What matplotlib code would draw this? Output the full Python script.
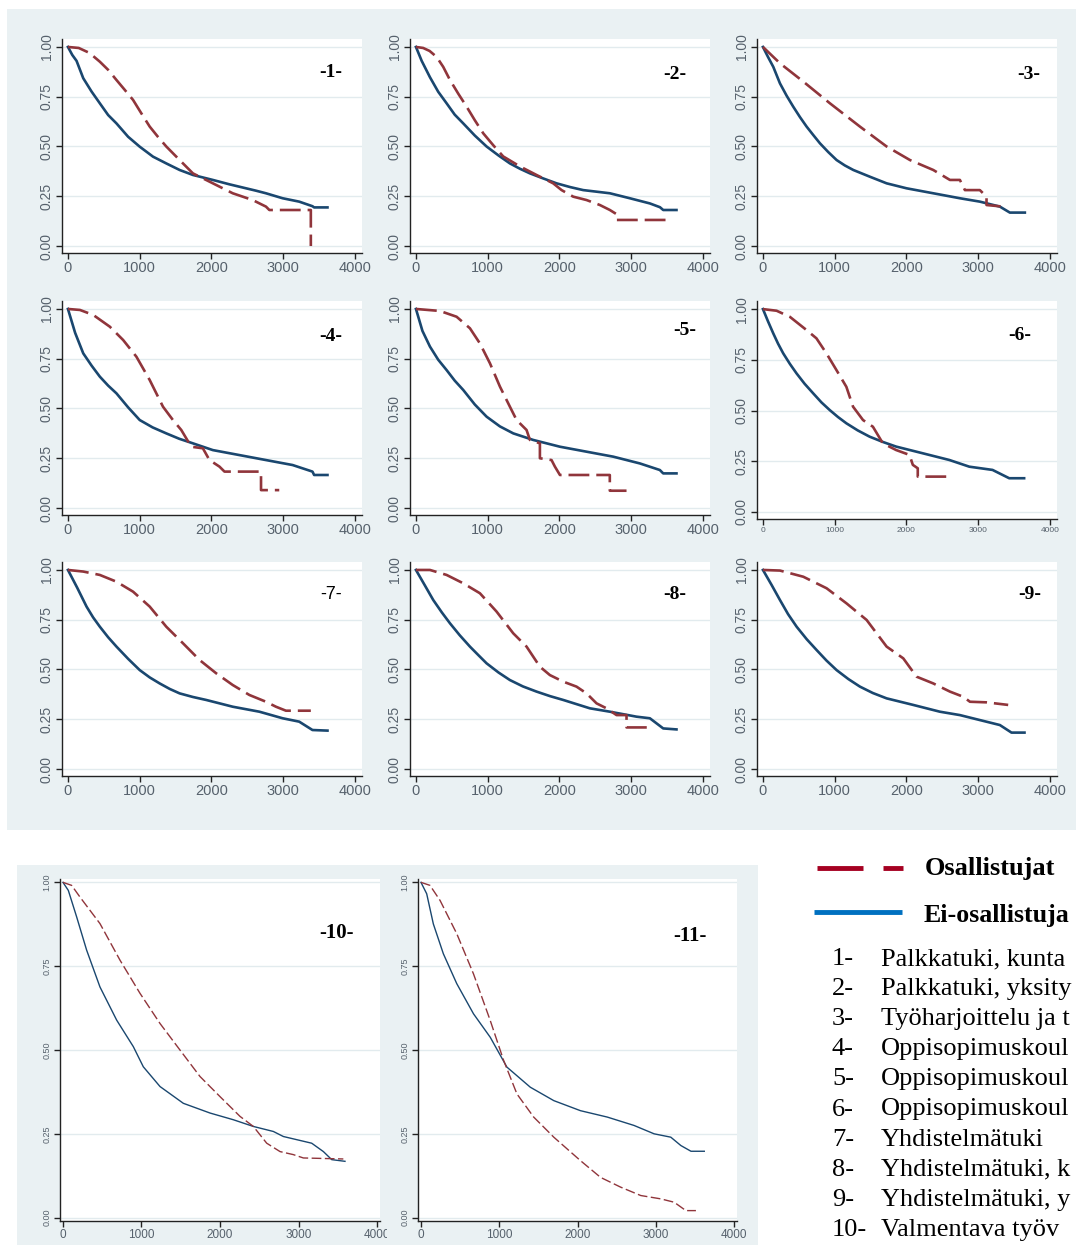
import matplotlib.pyplot as plt
from matplotlib.lines import Line2D
from matplotlib.patches import Rectangle

# ── survival curves (t = days, s = share still unemployed) ──
# "os" = Osallistujat (participants, red dashed), "ei" = Ei-osallistujat (blue)
t01_ei = [0, 60, 120, 213, 329, 444, 560, 676, 838, 1000, 1185, 1370, 1556, 1741, 2019, 2250, 2481, 2620, 2759, 2991, 3222, 3407, 3430, 3616]
s01_ei = [1, 0.96, 0.93, 0.843, 0.776, 0.717, 0.658, 0.616, 0.549, 0.499, 0.449, 0.415, 0.382, 0.357, 0.332, 0.31, 0.29, 0.278, 0.265, 0.24, 0.223, 0.2, 0.194, 0.194]
t01_os = [0, 150, 300, 444, 560, 676, 790, 907, 1020, 1139, 1255, 1370, 1556, 1741, 1880, 2019, 2296, 2574, 2759, 2806, 3384, 3384]
s01_os = [1, 0.995, 0.97, 0.926, 0.885, 0.834, 0.785, 0.734, 0.668, 0.6, 0.548, 0.5, 0.432, 0.365, 0.34, 0.315, 0.265, 0.231, 0.198, 0.181, 0.181, 0.0]

t02_ei = [0, 80, 195, 310, 427, 540, 659, 820, 984, 1150, 1309, 1450, 1588, 1770, 1959, 2150, 2330, 2702, 2980, 3259, 3400, 3445, 3630]
s02_ei = [1, 0.93, 0.848, 0.775, 0.717, 0.66, 0.616, 0.555, 0.5, 0.455, 0.415, 0.388, 0.365, 0.34, 0.315, 0.296, 0.281, 0.265, 0.24, 0.214, 0.195, 0.181, 0.181]
t02_os = [0, 100, 190, 288, 380, 474, 590, 706, 820, 938, 1080, 1216, 1448, 1680, 1912, 2029, 2191, 2377, 2563, 2702, 2795, 2795, 3561]
s02_os = [1, 0.995, 0.98, 0.95, 0.9, 0.834, 0.765, 0.70, 0.632, 0.566, 0.505, 0.45, 0.4, 0.357, 0.315, 0.281, 0.248, 0.231, 0.206, 0.181, 0.16, 0.131, 0.131]

t03_ei = [0, 70, 144, 237, 330, 422, 515, 608, 700, 794, 910, 1026, 1140, 1259, 1491, 1723, 2001, 2373, 2744, 3022, 3301, 3440, 3649]
s03_ei = [1, 0.95, 0.9, 0.817, 0.755, 0.70, 0.648, 0.6, 0.558, 0.516, 0.472, 0.432, 0.405, 0.382, 0.348, 0.315, 0.29, 0.265, 0.24, 0.223, 0.198, 0.168, 0.168]
t03_os = [0, 237, 562, 933, 1351, 1723, 2048, 2373, 2605, 2744, 2814, 3022, 3115, 3115, 3347]
s03_os = [1, 0.918, 0.826, 0.717, 0.6, 0.5, 0.432, 0.382, 0.332, 0.332, 0.281, 0.281, 0.248, 0.206, 0.198]

t04_ei = [0, 100, 213, 330, 444, 560, 676, 840, 1000, 1180, 1370, 1550, 1741, 2019, 2389, 2759, 3130, 3407, 3430, 3616]
s04_ei = [1, 0.88, 0.777, 0.715, 0.66, 0.615, 0.576, 0.505, 0.442, 0.405, 0.375, 0.348, 0.325, 0.291, 0.266, 0.241, 0.216, 0.183, 0.166, 0.166]
t04_os = [0, 167, 352, 583, 769, 954, 1139, 1324, 1463, 1579, 1718, 1880, 1972, 2111, 2181, 2690, 2690, 2944]
s04_os = [1, 0.995, 0.97, 0.911, 0.844, 0.76, 0.643, 0.509, 0.442, 0.392, 0.308, 0.3, 0.241, 0.208, 0.183, 0.183, 0.09, 0.09]

t05_ei = [0, 90, 195, 310, 427, 540, 659, 820, 984, 1170, 1356, 1634, 2006, 2377, 2749, 3120, 3398, 3445, 3630]
s05_ei = [1, 0.89, 0.811, 0.745, 0.693, 0.64, 0.593, 0.52, 0.459, 0.41, 0.375, 0.342, 0.308, 0.283, 0.258, 0.224, 0.191, 0.174, 0.174]
t05_os = [0, 334, 566, 752, 891, 1031, 1170, 1309, 1402, 1541, 1588, 1727, 1727, 1889, 1936, 2006, 2701, 2701, 2934]
s05_os = [1, 0.99, 0.961, 0.903, 0.827, 0.727, 0.61, 0.509, 0.442, 0.392, 0.342, 0.325, 0.25, 0.241, 0.208, 0.166, 0.166, 0.087, 0.087]

t06_ei = [0, 70, 144, 210, 282, 375, 468, 580, 699, 815, 931, 1045, 1162, 1320, 1486, 1670, 1856, 2227, 2597, 2875, 3199, 3431, 3639]
s06_ei = [1, 0.94, 0.88, 0.83, 0.782, 0.73, 0.683, 0.632, 0.585, 0.54, 0.502, 0.468, 0.437, 0.402, 0.371, 0.345, 0.322, 0.289, 0.256, 0.223, 0.207, 0.166, 0.166]
t06_os = [0, 190, 375, 606, 745, 884, 1023, 1162, 1255, 1394, 1532, 1671, 1856, 2042, 2088, 2157, 2157, 2597]
s06_os = [1, 0.992, 0.962, 0.897, 0.856, 0.782, 0.7, 0.617, 0.519, 0.453, 0.42, 0.338, 0.305, 0.281, 0.232, 0.215, 0.174, 0.174]

t07_ei = [0, 130, 259, 350, 444, 560, 676, 840, 1000, 1140, 1278, 1420, 1556, 1740, 1926, 2296, 2667, 2991, 3222, 3407, 3616]
s07_ei = [1, 0.91, 0.816, 0.762, 0.715, 0.662, 0.615, 0.553, 0.497, 0.46, 0.43, 0.402, 0.38, 0.362, 0.347, 0.313, 0.288, 0.255, 0.238, 0.196, 0.193]
t07_os = [0, 213, 444, 676, 907, 1139, 1370, 1602, 1833, 2065, 2296, 2528, 2759, 2898, 3037, 3384]
s07_os = [1, 0.992, 0.975, 0.941, 0.891, 0.816, 0.715, 0.632, 0.548, 0.481, 0.422, 0.372, 0.338, 0.313, 0.293, 0.293]

t08_ei = [0, 120, 241, 360, 474, 610, 752, 870, 984, 1150, 1309, 1490, 1680, 1870, 2052, 2423, 2702, 3073, 3259, 3445, 3630]
s08_ei = [1, 0.925, 0.849, 0.787, 0.732, 0.672, 0.615, 0.572, 0.531, 0.485, 0.447, 0.415, 0.389, 0.366, 0.347, 0.305, 0.288, 0.263, 0.255, 0.204, 0.199]
t08_os = [0, 195, 427, 659, 891, 1123, 1355, 1541, 1727, 1866, 2052, 2237, 2377, 2516, 2655, 2795, 2934, 2934, 3282]
s08_os = [1, 1.0, 0.975, 0.933, 0.883, 0.791, 0.682, 0.615, 0.514, 0.472, 0.439, 0.414, 0.38, 0.33, 0.305, 0.271, 0.271, 0.209, 0.209]

t09_ei = [0, 120, 237, 350, 469, 610, 747, 885, 1026, 1190, 1351, 1530, 1723, 2094, 2465, 2744, 3022, 3301, 3463, 3644]
s09_ei = [1, 0.925, 0.849, 0.778, 0.715, 0.652, 0.598, 0.545, 0.497, 0.452, 0.414, 0.382, 0.355, 0.322, 0.288, 0.271, 0.246, 0.221, 0.183, 0.183]
t09_os = [0, 237, 562, 887, 1165, 1444, 1723, 1955, 2140, 2373, 2605, 2791, 2884, 3115, 3417]
s09_os = [1, 0.997, 0.966, 0.908, 0.832, 0.749, 0.615, 0.556, 0.464, 0.43, 0.389, 0.363, 0.338, 0.335, 0.322]

t10_ei = [0, 68, 174, 301, 471, 684, 896, 1023, 1236, 1533, 1873, 2170, 2425, 2680, 2807, 3168, 3317, 3423, 3592]
s10_ei = [1, 0.976, 0.897, 0.798, 0.688, 0.589, 0.51, 0.45, 0.391, 0.341, 0.312, 0.292, 0.272, 0.257, 0.242, 0.222, 0.197, 0.173, 0.168]
t10_os = [0, 110, 217, 471, 726, 981, 1236, 1490, 1745, 2000, 2255, 2425, 2595, 2765, 2934, 3062, 3571]
s10_os = [1, 0.991, 0.956, 0.877, 0.768, 0.669, 0.579, 0.5, 0.421, 0.361, 0.302, 0.272, 0.222, 0.197, 0.188, 0.178, 0.175]

t11_ei = [0, 73, 158, 286, 457, 671, 885, 1098, 1397, 1697, 2038, 2380, 2722, 2979, 3192, 3321, 3450, 3620]
s11_ei = [1, 0.966, 0.876, 0.787, 0.698, 0.608, 0.538, 0.449, 0.389, 0.349, 0.319, 0.3, 0.275, 0.25, 0.24, 0.215, 0.198, 0.198]
t11_os = [0, 115, 244, 457, 671, 885, 1056, 1226, 1440, 1697, 2038, 2295, 2551, 2808, 3064, 3235, 3385, 3513]
s11_os = [1, 0.991, 0.946, 0.847, 0.727, 0.588, 0.469, 0.369, 0.3, 0.24, 0.17, 0.12, 0.091, 0.066, 0.056, 0.046, 0.021, 0.021]

panel_labels = ["-1-", "-2-", "-3-", "-4-", "-5-", "-6-", "-7-", "-8-", "-9-", "-10-", "-11-"]
x_ticks = [0, 1000, 2000, 3000, 4000]
y_ticks = [0, 0.25, 0.5, 0.75, 1.0]
y_tick_labels = ["0.00", "0.25", "0.50", "0.75", "1.00"]

# legend / key text as far as the picture shows it (the page runs off the right edge)
legend_labels = ["Osallistujat", "Ei-osallistuja"]
item_numbers = ["1-", "2-", "3-", "4-", "5-", "6-", "7-", "8-", "9-", "10-"]
item_names = [
    "Palkkatuki, kunta",
    "Palkkatuki, yksity",
    "Työharjoittelu ja t",
    "Oppisopimuskoul",
    "Oppisopimuskoul",
    "Oppisopimuskoul",
    "Yhdistelmätuki",
    "Yhdistelmätuki, k",
    "Yhdistelmätuki, y",
    "Valmentava työv",
]

curves = [
    (t01_ei, s01_ei, t01_os, s01_os), (t02_ei, s02_ei, t02_os, s02_os),
    (t03_ei, s03_ei, t03_os, s03_os), (t04_ei, s04_ei, t04_os, s04_os),
    (t05_ei, s05_ei, t05_os, s05_os), (t06_ei, s06_ei, t06_os, s06_os),
    (t07_ei, s07_ei, t07_os, s07_os), (t08_ei, s08_ei, t08_os, s08_os),
    (t09_ei, s09_ei, t09_os, s09_os), (t10_ei, s10_ei, t10_os, s10_os),
    (t11_ei, s11_ei, t11_os, s11_os),
]

# ── styling ──────────────────────────────────────────────────────────
BG = '#eaf1f3'
GRID = '#e2ebee'
NAVY = '#1a476f'
MAROON = '#90353b'
TICKLAB = '#56616c'
LEG_RED = '#a50021'
LEG_BLUE = '#0070c0'
SANS = 'Liberation Sans'
SERIF = 'Liberation Serif'

plt.rcParams['lines.scale_dashes'] = False

W, H = 1076, 1245
fig = plt.figure(figsize=(W / 100, H / 100), dpi=100)


def fig_rect(x, y, w, h):
    # pixel box (top-left origin) -> figure fraction
    return [x / W, 1 - (y + h) / H, w / W, h / H]


def add_bg(x, y, w, h, z):
    r = Rectangle((x / W, 1 - (y + h) / H), w / W, h / H, transform=fig.transFigure,
                  facecolor=BG, edgecolor='none', zorder=z)
    fig.add_artist(r)


add_bg(7, 9, 1069, 821, -1)      # block of nine small panels
add_bg(17, 865, 378, 380, -1)    # panel 10
add_bg(387, 865, 371, 380, 0.5)  # panel 11 (covers the tail of panel 10's "4000")

# (left, top, width, height) in pixels
top_cols = [62, 410, 757]
top_rows = [39, 301, 562]
boxes = []
for r in top_rows:
    for c in top_cols:
        boxes.append((c, r, 300, 214))
boxes[5] = (757, 301, 300, 218)
boxes.append((60, 879, 320, 342))
boxes.append((418, 879, 319, 342))

label_pos = [(3667, 0.874), (3607, 0.864), (3705, 0.864),
             (3667, 0.86), (3746, 0.89), (3583, 0.872),
             (3667, 0.879), (3607, 0.879), (3719, 0.879),
             (3490, 0.85), (3436, 0.84)]

for i, (box, (te, se, to, so)) in enumerate(zip(boxes, curves)):
    small = i >= 9
    ax = fig.add_axes(fig_rect(*box), zorder=1 if i == 10 else 0)
    ax.set_facecolor('white')
    if small:
        ax.set_xlim(-38, 4038)
        ax.set_ylim(-0.01, 1.01)
    else:
        ax.set_xlim(-83, 4097)
        ax.set_ylim(-0.035, 1.04)

    lw = 1.0 if small else 1.9
    dash = (7, 2.5) if small else (15, 5)
    ax.plot(te, se, color=NAVY, lw=lw)
    ax.plot(to, so, color=MAROON, lw=lw, dashes=dash)

    ax.set_xticks(x_ticks)
    ax.set_xticklabels([str(v) for v in x_ticks])
    ax.set_yticks(y_ticks)
    ax.set_yticklabels(y_tick_labels, rotation=90, va='center')
    for s in ['top', 'right']:
        ax.spines[s].set_visible(False)
    for s in ['left', 'bottom']:
        ax.spines[s].set_color('#222222')
        ax.spines[s].set_linewidth(1.0)
    ax.grid(axis='y', color=GRID, lw=1.0)
    ax.set_axisbelow(True)

    xs = 8.5 if small else (6 if i == 5 else 10.5)
    ys = 6.5 if small else 10
    ax.tick_params(axis='x', direction='out', length=4, width=1, color='#222222',
                   labelcolor=TICKLAB, labelsize=xs, pad=2)
    ax.tick_params(axis='y', direction='out', length=4, width=1, color='#222222',
                   labelcolor=TICKLAB, labelsize=ys, pad=2)
    for lab in ax.get_xticklabels() + ax.get_yticklabels():
        lab.set_family(SANS)

    lx, ly = label_pos[i]
    if i == 6:
        ax.text(lx, ly, panel_labels[i], ha='center', va='center', fontsize=13, family=SANS)
    else:
        ax.text(lx, ly, panel_labels[i], ha='center', va='center',
                fontsize=15 if small else 14, family=SERIF, fontweight='bold')

# ── legend and list of programmes ───────────────────────────────────
y_red = 1 - 868 / H
y_blue = 1 - 912 / H
fig.add_artist(Line2D([817 / W, 863 / W], [y_red, y_red], color=LEG_RED, lw=3.5,
                      solid_capstyle='butt'))
fig.add_artist(Line2D([883 / W, 903 / W], [y_red, y_red], color=LEG_RED, lw=3.5,
                      solid_capstyle='butt'))
fig.add_artist(Line2D([814 / W, 902 / W], [y_blue, y_blue], color=LEG_BLUE, lw=3.5,
                      solid_capstyle='butt'))
fig.text(925 / W, 1 - 875 / H, legend_labels[0], fontsize=19, family=SERIF,
         fontweight='bold', va='baseline')
fig.text(924 / W, 1 - 922 / H, legend_labels[1], fontsize=18.6, family=SERIF,
         fontweight='bold', va='baseline')

for k, (num, name) in enumerate(zip(item_numbers, item_names)):
    yb = 1 - (965 + 30.1 * k) / H
    fig.text(832 / W, yb, num, fontsize=19, family=SERIF, va='baseline')
    fig.text(881 / W, yb, name, fontsize=19, family=SERIF, va='baseline')

fig.savefig('out.png', dpi=100)
